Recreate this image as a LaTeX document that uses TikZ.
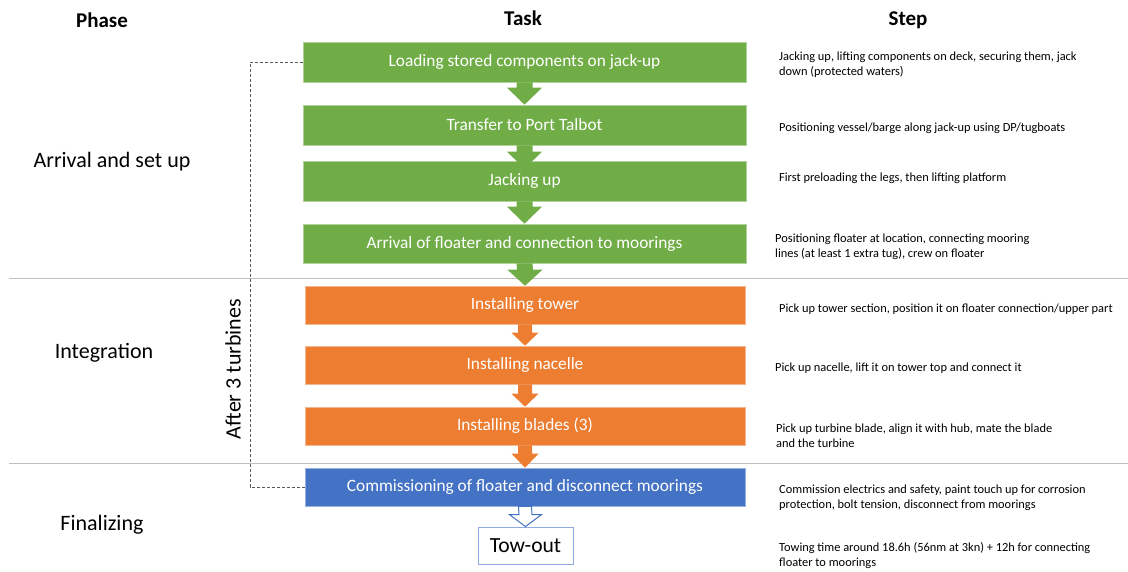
\documentclass[tikz,border=0pt]{standalone}
\usepackage{fontspec}
\setmainfont{Carlito}
\usetikzlibrary{calc}
\definecolor{cgreen}{HTML}{70AD47}
\definecolor{corange}{HTML}{ED7D31}
\definecolor{cblue}{HTML}{4472C4}
\definecolor{clightblue}{HTML}{8FAADC}
\definecolor{csep}{HTML}{BFBFBF}
\definecolor{cdash}{HTML}{595959}
\newcommand{\barrow}[6]{%
  \path[#1] ($(#2)+(-#4,0)$) -- ($(#3)+(-#4,#6)$) -- ($(#3)+(-#5,#6)$) -- (#3)
    -- ($(#3)+(#5,#6)$) -- ($(#3)+(#4,#6)$) -- ($(#2)+(#4,0)$) -- cycle;}
\tikzset{
  taskbox/.style={fill=#1, draw=#1!55!white, line width=0.6pt, minimum height=38pt,
    inner sep=0pt, text=white, font=\fontsize{17.3}{20}\selectfont},
  header/.style={font=\bfseries\fontsize{21}{24}\selectfont, inner sep=0pt},
  phase/.style={font=\fontsize{22}{26}\selectfont, inner sep=0pt},
  steptext/.style={anchor=west, align=left, inner sep=0pt,
    font=\fontsize{12.4}{15}\selectfont},
  sepline/.style={draw=csep, line width=1pt},
  loopline/.style={draw=cdash, line width=0.8pt, dash pattern=on 3pt off 2pt}
}
\begin{document}
\begin{tikzpicture}[x=1pt,y=1pt]
\useasboundingbox (0,0) rectangle (1128,-571);
% headers
\node[header] (hphase) at (102,-20) {Phase};
\node[header] (htask) at (523,-18) {Task};
\node[header] (hstep) at (908,-20) {Step};
% separators
\coordinate (s1a) at (9,-278.5);
\coordinate (s1b) at (1128,-278.5);
\coordinate (s2a) at (9,-463);
\coordinate (s2b) at (1128,-463);
\draw[sepline] (s1a) -- (s1b);
\draw[sepline] (s2a) -- (s2b);
% phases
\node[phase] (p1) at (112,-162) {Arrival and set up};
\node[phase] (p2) at (104,-353) {Integration};
\node[phase] (p3) at (102,-525) {Finalizing};
\node[phase, rotate=90] (after) at (233,-369) {After 3 turbines};
% task boxes
\node[taskbox=cgreen, minimum width=443pt, minimum height=40pt] (L1) at (524.5,-62) {Loading stored components on jack-up};
\node[taskbox=cgreen, minimum width=443pt, minimum height=40pt] (L2) at (524.5,-125) {Transfer to Port Talbot};
\node[taskbox=cgreen, minimum width=443pt, minimum height=40pt] (L3) at (524.5,-181) {Jacking up};
\node[taskbox=cgreen, minimum width=443pt, minimum height=39pt] (L4) at (524.5,-243.5) {Arrival of floater and connection to moorings};
\node[taskbox=corange, minimum width=440pt] (O1) at (525,-305) {Installing tower};
\node[taskbox=corange, minimum width=440pt] (O2) at (525,-365) {Installing nacelle};
\node[taskbox=corange, minimum width=440pt] (O3) at (525,-426) {Installing blades (3)};
\node[taskbox=cblue, minimum width=440pt] (C) at (525,-487) {Commissioning of floater and disconnect moorings};
\node[draw=clightblue, line width=0.8pt, minimum width=95pt, minimum height=37pt, inner sep=0pt,
  font=\fontsize{21.6}{24}\selectfont] (T) at (525.5,-545.5) {Tow-out};
% arrows
\coordinate (t23) at ($(L3.north)+(0,-8)$);
\barrow{fill=cgreen}{L1.south}{L2.north}{8}{17.5}{17}
\barrow{fill=cgreen}{L2.south}{t23}{8}{17.5}{17}
\barrow{fill=cgreen}{L3.south}{L4.north}{8}{17.5}{17}
\barrow{fill=cgreen}{L4.south}{O1.north}{8}{17.5}{16}
\barrow{fill=corange}{O1.south}{O2.north}{7}{13.5}{13}
\barrow{fill=corange}{O2.south}{O3.north}{7}{13.5}{13}
\barrow{fill=corange}{O3.south}{C.north}{7}{13.5}{14}
\barrow{fill=white, draw=cblue, line width=1pt}{C.south}{T.north}{6.5}{16}{12}
% loop line
\coordinate (dl) at (250,-62);
\draw[loopline] (L1.west) -- (dl) |- (C.west);
% step texts
\node[steptext] (S1) at (779,-64.5) {Jacking up, lifting components on deck, securing them, jack\\down (protected waters)};
\node[steptext] (S2) at (779,-128) {Positioning vessel/barge along jack-up using DP/tugboats};
\node[steptext] (S3) at (779,-178) {First preloading the legs, then lifting platform};
\node[steptext] (S4) at (775,-246.5) {Positioning floater at location, connecting mooring\\lines (at least 1 extra tug), crew on floater};
\node[steptext] (S5) at (779,-309) {Pick up tower section, position it on floater connection/upper part};
\node[steptext] (S6) at (775,-368) {Pick up nacelle, lift it on tower top and connect it};
\node[steptext] (S7) at (776,-435.5) {Pick up turbine blade, align it with hub, mate the blade\\and the turbine};
\node[steptext] (S8) at (779,-498) {Commission electrics and safety, paint touch up for corrosion\\protection, bolt tension, disconnect from moorings};
\node[steptext] (S9) at (779,-555.5) {Towing time around 18.6h (56nm at 3kn) + 12h for connecting\\floater to moorings};
\end{tikzpicture}
\end{document}
